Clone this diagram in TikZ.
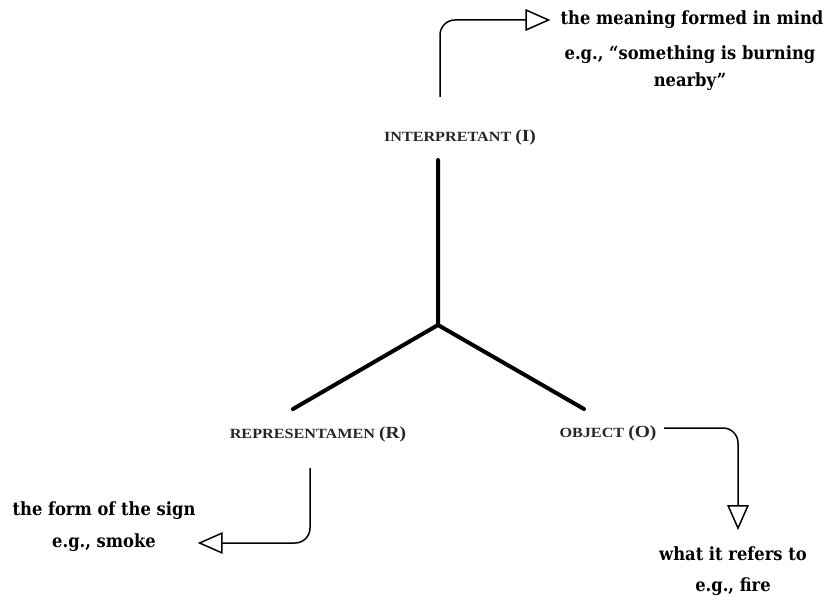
\documentclass[tikz,border=0pt]{standalone}
\usepackage{fontspec}
\setmainfont{DejaVu Serif Condensed}
\newfontfamily\capfont[FakeStretch=1.15]{Liberation Serif}
\usetikzlibrary{arrows.meta}
\tikzset{
  leg/.style={line width=1.2mm, line cap=round},
  capname/.style={font=\capfont\bfseries\fontsize{12}{14}\selectfont, text=black!85, inner sep=0pt},
  gloss/.style={font=\bfseries\fontsize{15.5}{18}\selectfont, inner sep=0pt, align=center},
  pointer/.style={line width=0.45mm, rounded corners=4.5mm, -{Triangle[open, length=7.5mm, width=6.5mm, line width=0.45mm]}}
}
\newcommand{\letr}[1]{{\fontsize{14.5}{16}\selectfont(#1)}}
\begin{document}
\begin{tikzpicture}[x=0.3mm, y=-0.3mm, line join=round]
	\useasboundingbox (0,0) rectangle (831,601);
	% the three legs
	\coordinate (c) at (438,325); \coordinate (top) at (438,160);
	\coordinate (lft) at (293,409); \coordinate (rgt) at (584,409);
	\draw[leg] (c)--(top) (c)--(lft) (c)--(rgt);
	\node[capname] (interp) at (460,137) {INTERPRETANT \letr{I}};
	\node[capname] (repr) at (318,434) {REPRESENTAMEN \letr{R}};
	\node[capname] (obj) at (608,433) {OBJECT \letr{O}};
	% glosses
	\node[gloss] (mean) at (692,20) {the meaning formed in mind};
	\node[gloss] (burn) at (690,55) {e.g., \textquotedblleft something is burning};
	\node[gloss] (near) at (690,82) {nearby\textquotedblright};
	\node[gloss] (form) at (104,511) {the form of the sign};
	\node[gloss] (smoke) at (104,543) {e.g., smoke};
	\node[gloss] (refers) at (733,554) {what it refers to};
	\node[gloss] (fire) at (733,587) {e.g., fire};
	% pointers
	\coordinate (iStart) at (440,97); \coordinate (rStart) at (310,468); \coordinate (oStart) at (664,428);
	\coordinate (oTip) at (738,530);
	\draw[pointer, shorten >=3mm] (iStart) |- (mean.west);
	\draw[pointer, shorten >=12.5mm] (rStart) |- (smoke.east);
	\draw[pointer] (oStart) -| (oTip);
\end{tikzpicture}
\end{document}
